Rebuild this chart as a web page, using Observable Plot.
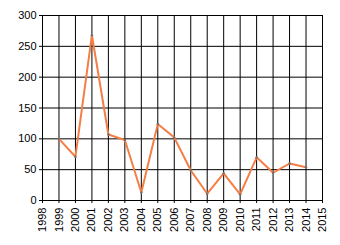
<!DOCTYPE html>
<html>
<head>
<meta charset="utf-8">
<script src="https://cdn.jsdelivr.net/npm/d3@7"></script>
<script src="https://cdn.jsdelivr.net/npm/@observablehq/plot@0.6"></script>
<style>
  html, body { margin: 0; padding: 0; background: white; }
</style>
</head>
<body>
<div id="chart"></div>
<script>
const years = [1999, 2000, 2001, 2002, 2003, 2004, 2005, 2006, 2007, 2008, 2009, 2010, 2011, 2012, 2013, 2014];
const values = [100, 71, 268, 107, 98, 13, 124, 102, 49, 11, 44, 10, 70, 45, 60, 54];
const xTicks = [1998, 1999, 2000, 2001, 2002, 2003, 2004, 2005, 2006, 2007, 2008, 2009, 2010, 2011, 2012, 2013, 2014, 2015];
const yTicks = [0, 50, 100, 150, 200, 250, 300];

const data = years.map((y, i) => ({year: y, value: values[i]}));

const chart = Plot.plot({
  width: 340,
  height: 245,
  marginLeft: 42,
  marginRight: 18,
  marginTop: 15,
  marginBottom: 45,
  style: {fontFamily: "'Liberation Sans', Arial, sans-serif", fontSize: "11px", color: "black", background: "white", overflow: "visible"},
  x: {domain: [1998, 2015], ticks: xTicks, tickFormat: d => String(d), tickRotate: -90, tickSize: 3, tickPadding: 4, label: null},
  y: {domain: [0, 300], ticks: yTicks, tickSize: 3, tickPadding: 3, label: null},
  marks: [
    Plot.gridX(xTicks, {stroke: "black", strokeOpacity: 1, strokeWidth: 1}),
    Plot.gridY(yTicks, {stroke: "black", strokeOpacity: 1, strokeWidth: 1}),
    Plot.ruleX([1998], {stroke: "black"}),
    Plot.ruleY([0], {stroke: "black"}),
    Plot.line(data, {x: "year", y: "value", stroke: "#f57e45", strokeWidth: 2}),
    Plot.dot(data, {x: "year", y: "value", r: 1.2, fill: "#6e6e6e", stroke: "none"})
  ]
});
document.getElementById("chart").appendChild(chart);
</script>
</body>
</html>
